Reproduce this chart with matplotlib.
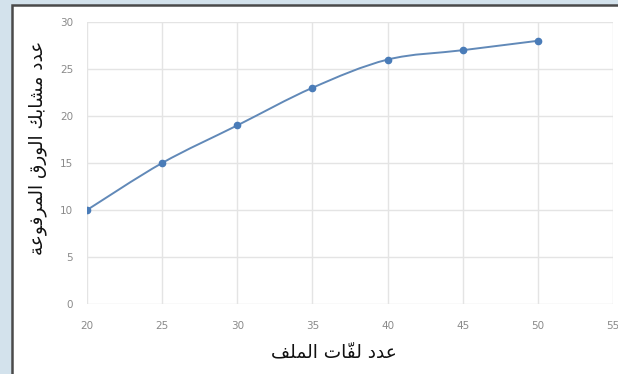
import matplotlib
matplotlib.use("Agg")
import matplotlib.pyplot as plt
import numpy as np
from matplotlib.path import Path
from matplotlib.patches import PathPatch, Rectangle

# عدد لفات الملف / عدد مشابك الورق المرفوعة
turns = [20, 25, 30, 35, 40, 45, 50]
clips = [10, 15, 19, 23, 26, 27, 28]
x_ticks = [20, 25, 30, 35, 40, 45, 50, 55]
y_ticks = [0, 5, 10, 15, 20, 25, 30]
x_title = "عدد لفّات الملف"
y_title = "عدد مشابك الورق المرفوعة"

# minimal arabic shaping: (isolated, final, initial, medial); None = no joining to next
FORMS = {
    "ا": (0xFE8D, 0xFE8E, None, None),
    "ب": (0xFE8F, 0xFE90, 0xFE91, 0xFE92),
    "ة": (0xFE93, 0xFE94, None, None),
    "ت": (0xFE95, 0xFE96, 0xFE97, 0xFE98),
    "د": (0xFEA9, 0xFEAA, None, None),
    "ر": (0xFEAD, 0xFEAE, None, None),
    "ش": (0xFEB5, 0xFEB6, 0xFEB7, 0xFEB8),
    "ع": (0xFEC9, 0xFECA, 0xFECB, 0xFECC),
    "ف": (0xFED1, 0xFED2, 0xFED3, 0xFED4),
    "ق": (0xFED5, 0xFED6, 0xFED7, 0xFED8),
    "ك": (0xFED9, 0xFEDA, 0xFEDB, 0xFEDC),
    "ل": (0xFEDD, 0xFEDE, 0xFEDF, 0xFEE0),
    "م": (0xFEE1, 0xFEE2, 0xFEE3, 0xFEE4),
    "و": (0xFEED, 0xFEEE, None, None),
}
MARKS = {"\u0651"}


def shape(text):
    # split into clusters: base letter + following marks
    clusters = []
    for ch in text:
        if ch in MARKS and clusters:
            clusters[-1][1].append(ch)
        else:
            clusters.append([ch, []])
    out = []
    for i, (ch, marks) in enumerate(clusters):
        if ch not in FORMS:
            out.append("".join(marks) + ch)
            continue
        prev = clusters[i - 1][0] if i > 0 else None
        nxt = clusters[i + 1][0] if i + 1 < len(clusters) else None
        join_prev = prev in FORMS and FORMS[prev][2] is not None
        join_next = nxt in FORMS and FORMS[ch][2] is not None
        iso, fin, ini, med = FORMS[ch]
        if join_prev and join_next:
            code = med
        elif join_prev:
            code = fin
        elif join_next:
            code = ini
        else:
            code = iso
        # marks go before the base in left-to-right order
        out.append("".join(marks) + chr(code))
    return "".join(reversed(out))


fig = plt.figure(figsize=(6.18, 3.74), dpi=100)
fig.patch.set_facecolor("#d3e2ec")

# white panel with dark frame on top/left
panel = Rectangle((12 / 618, -0.1), 1.2, 1.1 - 5 / 374, transform=fig.transFigure,
                  facecolor="white", edgecolor="#4a4a4a", linewidth=1.8, zorder=-5)
fig.patches.append(panel)

ax = fig.add_axes([87 / 618, 1 - 304 / 374, 526 / 618, 282 / 374])
ax.set_facecolor("none")
ax.set_xlim(20, 55)
ax.set_ylim(0, 30)
ax.set_xticks(x_ticks)
ax.set_yticks(y_ticks)
for s in ax.spines.values():
    s.set_visible(False)
ax.grid(True, color="#e4e4e4", linewidth=1.0)
ax.tick_params(length=0, labelsize=7.5, colors="#8a8a8a")
ax.tick_params(axis="x", pad=12)
ax.tick_params(axis="y", pad=10)
ax.set_axisbelow(True)

# smooth curve through the points (catmull-rom as cubic bezier)
x = np.array(turns, dtype=float)
y = np.array(clips, dtype=float)
verts = [(x[0], y[0])]
codes = [Path.MOVETO]
n = len(x)
for i in range(n - 1):
    p0 = (x[max(i - 1, 0)], y[max(i - 1, 0)])
    p1 = (x[i], y[i])
    p2 = (x[i + 1], y[i + 1])
    p3 = (x[min(i + 2, n - 1)], y[min(i + 2, n - 1)])
    c1 = (p1[0] + (p2[0] - p0[0]) / 6, p1[1] + (p2[1] - p0[1]) / 6)
    c2 = (p2[0] - (p3[0] - p1[0]) / 6, p2[1] - (p3[1] - p1[1]) / 6)
    verts += [c1, c2, p2]
    codes += [Path.CURVE4] * 3
ax.add_patch(PathPatch(Path(verts, codes), facecolor="none",
                       edgecolor="#6189b8", linewidth=1.4, zorder=3))
ax.plot(turns, clips, linestyle="none", marker="o", markersize=4.5,
        color="#4a7cb8", zorder=4)

fig.text(334 / 618, 1 - 352 / 374, shape(x_title), ha="center", va="center",
         fontsize=13.3, family="DejaVu Sans", color="#111111")
fig.text(38 / 618, 1 - 148 / 374, shape(y_title), ha="center", va="center",
         rotation=90, fontsize=13.3, family="DejaVu Sans", color="#111111")

fig.savefig("out.png", dpi=100, facecolor=fig.get_facecolor())
